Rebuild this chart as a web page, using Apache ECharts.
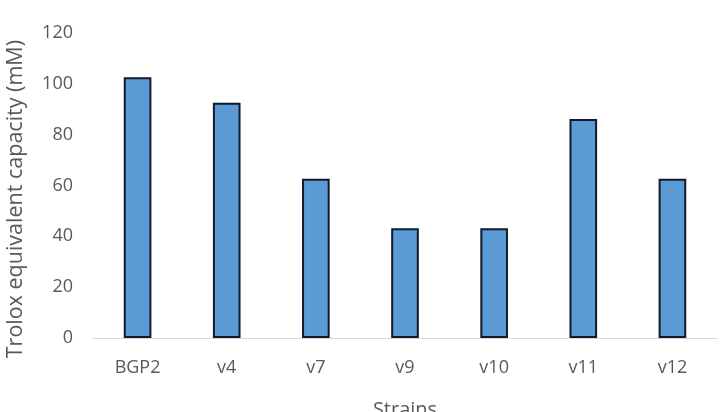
<!DOCTYPE html>
<html>
<head>
<meta charset="utf-8">
<script src="https://cdn.jsdelivr.net/npm/echarts@6/dist/echarts.min.js"></script>
<style>
  html, body { margin: 0; padding: 0; background: #fff; }
  #chart { width: 728px; height: 412px; }
</style>
</head>
<body>
<div id="chart"></div>
<script>
// values
const strains = ['BGP2', 'v4', 'v7', 'v9', 'v10', 'v11', 'v12'];
const troloxValues = [102.6, 92.6, 62.7, 43.2, 43.2, 86.2, 62.7];
const yTicks = [0, 20, 40, 60, 80, 100, 120];

const textColor = '#595959';
const fontFamily = '"Open Sans", "Noto Sans", sans-serif';

const chart = echarts.init(document.getElementById('chart'), null, { renderer: 'canvas' });

chart.setOption({
  animation: false,
  grid: { left: 93, right: 11, top: 33, bottom: 74, outerBoundsMode: 'none', containLabel: false },
  xAxis: {
    type: 'category',
    data: strains,
    name: 'Strains',
    nameLocation: 'middle',
    nameGap: 62,
    nameTextStyle: { color: textColor, fontSize: 20, fontFamily: fontFamily },
    axisLine: { lineStyle: { color: '#d9d9d9', width: 1 } },
    axisTick: { show: false },
    axisLabel: { color: textColor, fontSize: 18, fontFamily: fontFamily, margin: 21 }
  },
  yAxis: {
    type: 'value',
    min: yTicks[0],
    max: yTicks[yTicks.length - 1],
    interval: 20,
    axisLine: { show: false },
    axisTick: { show: false },
    splitLine: { show: false },
    axisLabel: { color: textColor, fontSize: 18, fontFamily: fontFamily, margin: 20 }
  },
  graphic: [{
    type: 'text',
    left: 5,
    top: 40,
    rotation: Math.PI / 2,
    style: {
      text: 'Trolox equivalent capacity (mM)',
      fill: textColor,
      font: '21.5px ' + fontFamily
    }
  }],
  series: [{
    type: 'bar',
    data: troloxValues,
    barWidth: '31%',
    itemStyle: {
      color: '#5b9bd5',
      borderColor: '#111a2b',
      borderWidth: 2
    }
  }]
});
</script>
</body>
</html>
